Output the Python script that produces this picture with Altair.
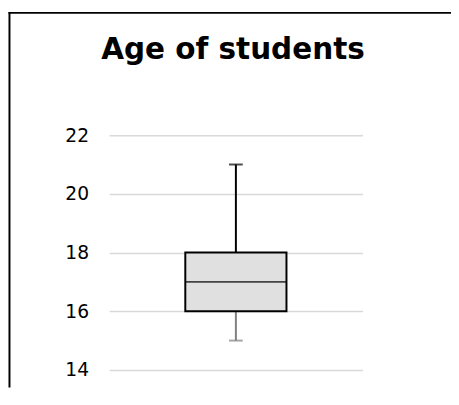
import altair as alt
import pandas as pd

# Box-plot summary of student ages
category = ["Age"]
min_age = [15]
q1_age = [16]
median_age = [17]
q3_age = [18]
max_age = [21]
tick_values = [14, 16, 18, 20, 22]

df = pd.DataFrame({
    "cat": category,
    "min": min_age,
    "q1": q1_age,
    "median": median_age,
    "q3": q3_age,
    "max": max_age,
})

FONT = "DejaVu Sans"
W, H = 258, 239
BOX_W = 103

xenc = alt.X("cat:N", axis=None, scale=alt.Scale(paddingInner=0, paddingOuter=0))
yscale = alt.Scale(domain=[14, 22], nice=False, zero=False)
yaxis = alt.Axis(values=tick_values, title=None, domain=False, ticks=False,
                 grid=True, gridColor="#d9d9d9", gridWidth=1.5,
                 labelFont=FONT, labelFontSize=19, labelColor="black",
                 labelPadding=21)

base = alt.Chart(df)
frame_df = pd.DataFrame({"b": [0]})

# chart-area frame drawn as thin filled bars (top and left edges)
frame_top = alt.Chart(frame_df).mark_rect(fill="black", strokeWidth=0).encode(
    x=alt.value(-102.5), x2=alt.value(360),
    y=alt.value(-125.5), y2=alt.value(-123.5),
)
frame_left = alt.Chart(frame_df).mark_rect(fill="black", strokeWidth=0).encode(
    x=alt.value(-102.5), x2=alt.value(-100.5),
    y=alt.value(-125.5), y2=alt.value(257),
)

lower_whisker = base.mark_rule(color="#7f7f7f", strokeWidth=2).encode(
    x=xenc, y=alt.Y("min:Q", scale=yscale, axis=yaxis), y2="q1:Q"
)
lower_cap = base.mark_tick(color="#7f7f7f", size=14, thickness=2, orient="horizontal").encode(
    x=xenc, y=alt.Y("min:Q", scale=yscale)
)
upper_whisker = base.mark_rule(color="black", strokeWidth=2).encode(
    x=xenc, y=alt.Y("q3:Q", scale=yscale), y2="max:Q"
)
upper_cap = base.mark_tick(color="black", size=14, thickness=2, orient="horizontal").encode(
    x=xenc, y=alt.Y("max:Q", scale=yscale)
)
box = base.mark_bar(size=BOX_W, fill="#e0e0e0", stroke="black", strokeWidth=2).encode(
    x=xenc, y=alt.Y("q1:Q", scale=yscale), y2="q3:Q"
)
median = base.mark_tick(color="black", size=BOX_W, thickness=2, orient="horizontal").encode(
    x=xenc, y=alt.Y("median:Q", scale=yscale)
)

chart = alt.layer(
    lower_whisker, lower_cap, upper_whisker, upper_cap, box, median, frame_top, frame_left
).properties(
    width=W, height=H,
    background="white",
    title=alt.TitleParams("Age of students", font=FONT, fontSize=30, fontWeight="bold",
                          color="black", anchor="middle", frame="group", offset=-54, dx=-3),
    autosize=alt.AutoSizeParams(type="none"),
    padding={"left": 103, "top": 126, "right": 90, "bottom": 18},
).configure_view(strokeWidth=0, stroke="transparent")

chart.save("out.html", embed_options={"renderer": "svg", "actions": False})
